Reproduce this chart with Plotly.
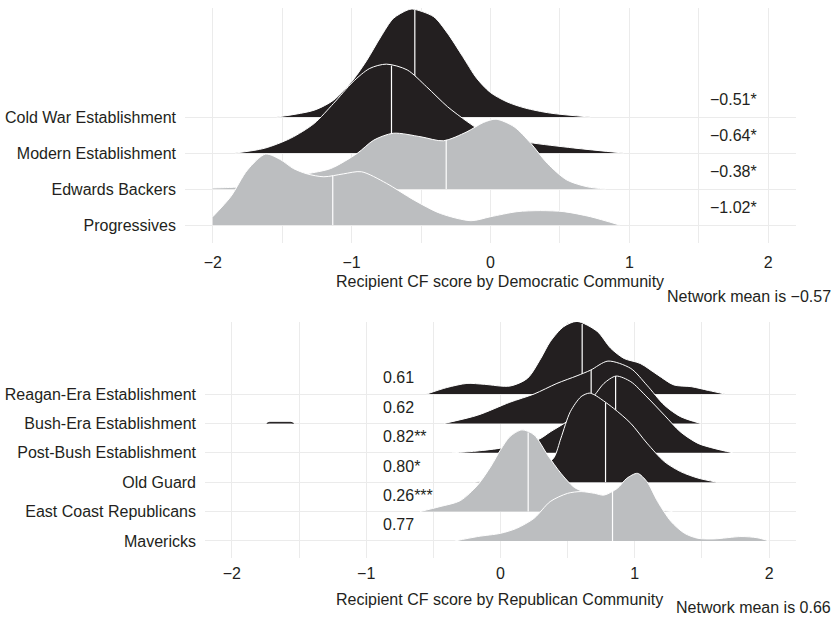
import plotly.graph_objects as go
import numpy as np

# ---------------- data ----------------
dem_names = ["Cold War Establishment", "Modern Establishment", "Edwards Backers", "Progressives"]
dem_labels = ["−0.51*", "−0.64*", "−0.38*", "−1.02*"]
dem_fill = ["#231f20", "#231f20", "#bcbec0", "#bcbec0"]
dem_medians = [-0.545, -0.713, -0.319, -1.136]

coldwar_x = [-1.54, -1.27, -1.13, -0.99, -0.89, -0.79, -0.70, -0.60, -0.56, -0.41, -0.31, -0.20, -0.10, 0.0, 0.12, 0.25, 0.43, 0.72]
coldwar_h = [0, 0.19, 0.47, 1.03, 1.58, 2.23, 2.74, 2.97, 3.0, 2.79, 2.33, 1.68, 1.08, 0.68, 0.42, 0.25, 0.11, 0]

modern_x = [-1.84, -1.63, -1.44, -1.27, -1.13, -0.99, -0.87, -0.75, -0.60, -0.46, -0.31, -0.17, -0.05, 0.10, 0.28, 0.60, 0.96]
modern_h = [0, 0.13, 0.41, 0.82, 1.38, 1.98, 2.35, 2.47, 2.31, 1.84, 1.29, 0.88, 0.58, 0.40, 0.29, 0.14, 0]

edwards_x = [-2.0, -1.9, -1.8, -1.6, -1.45, -1.32, -1.15, -0.96, -0.84, -0.70, -0.50, -0.34, -0.17, -0.05, 0.04, 0.17, 0.29, 0.41, 0.55, 0.70, 0.83]
edwards_h = [0.03, 0.04, 0.06, 0.15, 0.28, 0.42, 0.57, 0.99, 1.36, 1.55, 1.45, 1.34, 1.59, 1.85, 1.94, 1.73, 1.27, 0.71, 0.25, 0.06, 0]

prog_x = [-2.0, -1.87, -1.75, -1.62, -1.51, -1.42, -1.32, -1.20, -1.06, -0.93, -0.75, -0.55, -0.36, -0.14, 0.0, 0.19, 0.36, 0.53, 0.72, 0.93]
prog_h = [0.23, 0.79, 1.53, 1.97, 1.81, 1.57, 1.42, 1.34, 1.42, 1.48, 1.16, 0.69, 0.32, 0.12, 0.23, 0.37, 0.40, 0.37, 0.23, 0]

rep_names = ["Reagan-Era Establishment", "Bush-Era Establishment", "Post-Bush Establishment",
             "Old Guard", "East Coast Republicans", "Mavericks"]
rep_labels = ["0.61", "0.62", "0.82**", "0.80*", "0.26***", "0.77"]
rep_fill = ["#231f20", "#231f20", "#231f20", "#231f20", "#bcbec0", "#bcbec0"]
rep_medians = [0.608, 0.675, 0.857, 0.782, 0.206, 0.834]

reagan_x = [-0.55, -0.40, -0.25, -0.12, 0.07, 0.20, 0.30, 0.37, 0.47, 0.57, 0.72, 0.82, 0.92, 1.04, 1.17, 1.29, 1.42, 1.55, 1.67]
reagan_h = [0, 0.22, 0.36, 0.33, 0.27, 0.53, 1.21, 1.78, 2.29, 2.47, 2.13, 1.56, 1.21, 1.04, 0.65, 0.31, 0.25, 0.12, 0]

bush_x = [-0.42, -0.17, 0.07, 0.25, 0.42, 0.57, 0.67, 0.80, 0.97, 1.09, 1.22, 1.34, 1.49]
bush_h = [0, 0.28, 0.72, 1.0, 1.36, 1.62, 1.81, 2.12, 1.87, 1.30, 0.62, 0.23, 0]
bush_tail_x = [-1.74, -1.72, -1.56, -1.54]
bush_tail_h = [0, 0.035, 0.035, 0]

postbush_x = [-0.36, -0.20, -0.01, 0.15, 0.29, 0.37, 0.50, 0.60, 0.70, 0.77, 0.86, 0.97, 1.09, 1.22, 1.34, 1.47, 1.59, 1.73]
postbush_h = [0, 0.05, 0.15, 0.30, 0.47, 0.71, 1.08, 1.50, 1.96, 2.36, 2.61, 2.42, 1.90, 1.28, 0.71, 0.32, 0.15, 0]

oldguard_x = [-0.20, 0.0, 0.20, 0.33, 0.40, 0.45, 0.52, 0.60, 0.66, 0.70, 0.84, 0.97, 1.09, 1.22, 1.34, 1.47, 1.61]
oldguard_h = [0, 0.08, 0.25, 0.55, 0.85, 1.50, 2.40, 2.91, 3.03, 2.97, 2.52, 2.0, 1.33, 0.70, 0.36, 0.14, 0]

eastcoast_x = [-0.60, -0.45, -0.30, -0.17, -0.07, 0.0, 0.07, 0.16, 0.25, 0.35, 0.45, 0.55, 0.65, 0.80, 1.0, 1.1, 1.2, 1.28]
eastcoast_h = [0, 0.17, 0.37, 0.90, 1.55, 2.10, 2.55, 2.78, 2.61, 1.93, 1.30, 0.82, 0.63, 0.45, 0.28, 0.15, 0.05, 0]

mav_x = [-0.34, -0.17, 0.0, 0.12, 0.25, 0.37, 0.50, 0.60, 0.70, 0.77, 0.87, 0.94, 1.02, 1.09, 1.17, 1.27, 1.37, 1.47, 1.59, 1.79, 1.91, 2.0]
mav_h = [0, 0.15, 0.26, 0.43, 0.77, 1.34, 1.62, 1.68, 1.62, 1.56, 1.79, 2.13, 2.30, 2.02, 1.34, 0.66, 0.26, 0.09, 0.07, 0.15, 0.11, 0]

x_ticks = [-2, -1, 0, 1, 2]
x_ticktext = ["−2", "−1", "0", "1", "2"]
x_minor = [-1.5, -0.5, 0.5, 1.5]

# ---------------- figure ----------------
FONT = "Liberation Sans, Arial, Helvetica, sans-serif"
TXT = "#231f20"
GRID = "#ebebeb"

fig = go.Figure()


def add_ridge(xs, hs, base, color, xa, ya, median=None, outline=True):
    fig.add_trace(go.Scatter(x=[xs[0], xs[-1]], y=[base, base], mode="lines",
                             line=dict(width=0, color="rgba(0,0,0,0)"),
                             hoverinfo="skip", showlegend=False, xaxis=xa, yaxis=ya))
    fig.add_trace(go.Scatter(x=xs, y=[base + h for h in hs], mode="lines",
                             fill="tonexty", fillcolor=color,
                             line=dict(color="white" if outline else color, width=1,
                                       shape="spline" if outline else "linear", smoothing=0.8),
                             hoverinfo="skip", showlegend=False, xaxis=xa, yaxis=ya))
    if median is not None:
        hm = float(np.interp(median, xs, hs))
        fig.add_trace(go.Scatter(x=[median, median], y=[base, base + hm], mode="lines",
                                 line=dict(color="white", width=1.2),
                                 hoverinfo="skip", showlegend=False, xaxis=xa, yaxis=ya))


# Democratic panel (top): draw highest row first
dem_curves = [(coldwar_x, coldwar_h), (modern_x, modern_h), (edwards_x, edwards_h), (prog_x, prog_h)]
n_dem = len(dem_names)
for i, (xs, hs) in enumerate(dem_curves):
    base = n_dem - i
    add_ridge(xs, hs, base, dem_fill[i], "x", "y", dem_medians[i])

# Republican panel (bottom)
rep_curves = [(reagan_x, reagan_h), (bush_x, bush_h), (postbush_x, postbush_h),
              (oldguard_x, oldguard_h), (eastcoast_x, eastcoast_h), (mav_x, mav_h)]
n_rep = len(rep_names)
for i, (xs, hs) in enumerate(rep_curves):
    base = n_rep - i
    add_ridge(xs, hs, base, rep_fill[i], "x2", "y2", rep_medians[i])
    if i == 1:
        add_ridge(bush_tail_x, bush_tail_h, base, rep_fill[i], "x2", "y2", None, outline=False)

annotations = []
for i, lab in enumerate(dem_labels):
    annotations.append(dict(x=1.564, y=n_dem - i + 0.5, xref="x", yref="y", text=lab,
                            showarrow=False, xanchor="left", yanchor="middle",
                            font=dict(size=16, color=TXT, family=FONT)))
for i, lab in enumerate(rep_labels):
    annotations.append(dict(x=-0.886, y=n_rep - i + 0.55, xref="x2", yref="y2", text=lab,
                            showarrow=False, xanchor="left", yanchor="middle",
                            font=dict(size=16, color=TXT, family=FONT)))

annotations += [
    dict(x=500 / 835, y=1 - 281 / 618, xref="paper", yref="paper",
         text="Recipient CF score by Democratic Community", showarrow=False,
         xanchor="center", yanchor="middle", font=dict(size=16, color=TXT, family=FONT)),
    dict(x=833 / 835, y=1 - 296 / 618, xref="paper", yref="paper",
         text="Network mean is −0.57", showarrow=False,
         xanchor="right", yanchor="middle", font=dict(size=16, color=TXT, family=FONT)),
    dict(x=500 / 835, y=1 - 599 / 618, xref="paper", yref="paper",
         text="Recipient CF score by Republican Community", showarrow=False,
         xanchor="center", yanchor="middle", font=dict(size=16, color=TXT, family=FONT)),
    dict(x=833 / 835, y=1 - 607.5 / 618, xref="paper", yref="paper",
         text="Network mean is 0.66", showarrow=False,
         xanchor="right", yanchor="middle", font=dict(size=16, color=TXT, family=FONT)),
]

xcommon = dict(range=[-2.2, 2.2], tickvals=x_ticks, ticktext=x_ticktext, showgrid=True,
               gridcolor=GRID, gridwidth=1, zeroline=False, showline=False, ticks="",
               tickfont=dict(size=16, color=TXT, family=FONT),
               minor=dict(tickvals=x_minor, showgrid=True, gridcolor=GRID, gridwidth=1))

fig.update_layout(
    width=835, height=618,
    margin=dict(l=0, r=0, t=0, b=0),
    paper_bgcolor="white", plot_bgcolor="white",
    showlegend=False,
    hovermode=False,
    font=dict(family=FONT, color=TXT, size=16),
    xaxis=dict(domain=[185 / 835, 796 / 835], anchor="y", ticklabelstandoff=8, **xcommon),
    yaxis=dict(domain=[1 - 243 / 618, 1 - 8 / 618], anchor="x", range=[0.5, 7.03],
               tickvals=list(range(n_dem, 0, -1)), ticktext=dem_names,
               showgrid=True, gridcolor=GRID, gridwidth=1, zeroline=False, showline=False,
               ticks="", ticklabelstandoff=8, tickfont=dict(size=16, color=TXT, family=FONT)),
    xaxis2=dict(domain=[205 / 835, 796 / 835], anchor="y2", ticklabelstandoff=4, **xcommon),
    yaxis2=dict(domain=[1 - 558 / 618, 1 - 322 / 618], anchor="x2", range=[0.42, 8.45],
                tickvals=list(range(n_rep, 0, -1)), ticktext=rep_names,
                showgrid=True, gridcolor=GRID, gridwidth=1, zeroline=False, showline=False,
                ticks="", ticklabelstandoff=8, tickfont=dict(size=16, color=TXT, family=FONT)),
    annotations=annotations,
)

fig.write_html("out.html", config={"displayModeBar": False, "staticPlot": True},
               post_script="document.body.style.margin='0px';document.body.style.overflow='hidden';")
